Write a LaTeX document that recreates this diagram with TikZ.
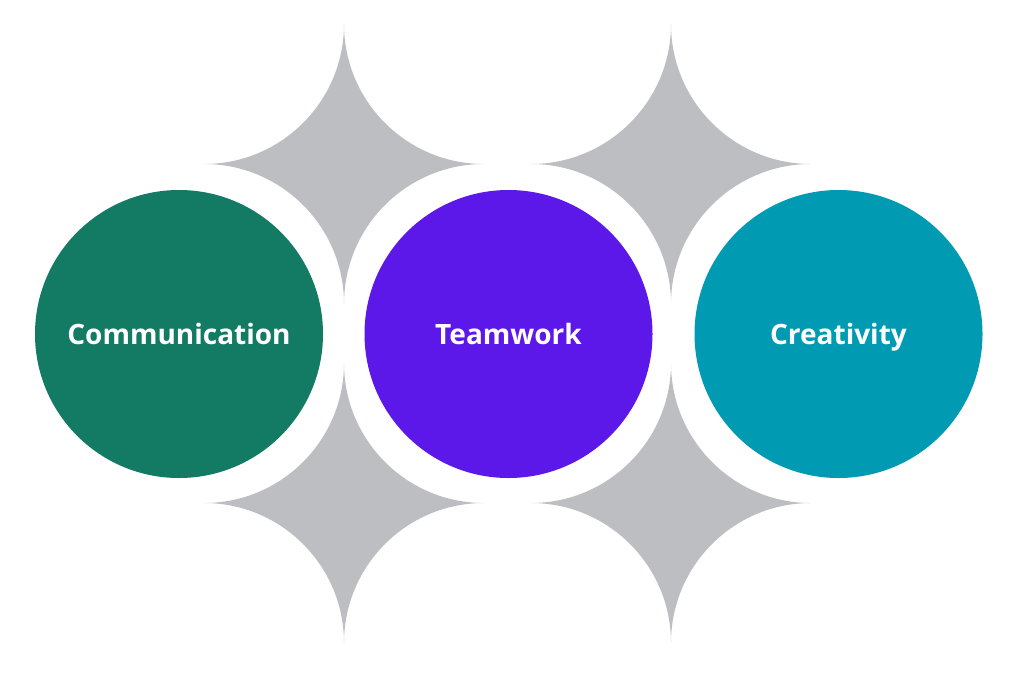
\documentclass[tikz,border=0pt]{standalone}
\usepackage{fontspec}
\setmainfont{Open Sans}
\definecolor{sparkgray}{HTML}{BDBEC2}
\definecolor{commgreen}{HTML}{137A64}
\definecolor{teampurple}{HTML}{5C18E9}
\definecolor{createal}{HTML}{019AB3}
\tikzset{
  bubble/.style={circle,inner sep=0pt,minimum size=288pt,text=white,
    font=\fontsize{28}{30}\selectfont\bfseries,text height=20pt,text depth=0pt,
    preaction={draw=white,line width=44pt}},
}
\begin{document}
\begin{tikzpicture}[x=1pt,y=-1pt]
  \useasboundingbox (0,0) rectangle (1024,673);
  % four-point sparkles behind the circles
  \foreach \cx/\cy in {344/164,344/503,671/164,671/503}
    \fill[sparkgray] (\cx,\cy-140) arc[start angle=0,end angle=90,radius=140]
      arc[start angle=-90,end angle=0,radius=140]
      arc[start angle=180,end angle=270,radius=140]
      arc[start angle=90,end angle=180,radius=140] -- cycle;
  \node[bubble,fill=commgreen] (comm) at (179,334) {Communication};
  \node[bubble,fill=teampurple] (team) at (508.5,334) {Teamwork};
  \node[bubble,fill=createal] (crea) at (838.5,334) {Creativity};
\end{tikzpicture}
\end{document}
